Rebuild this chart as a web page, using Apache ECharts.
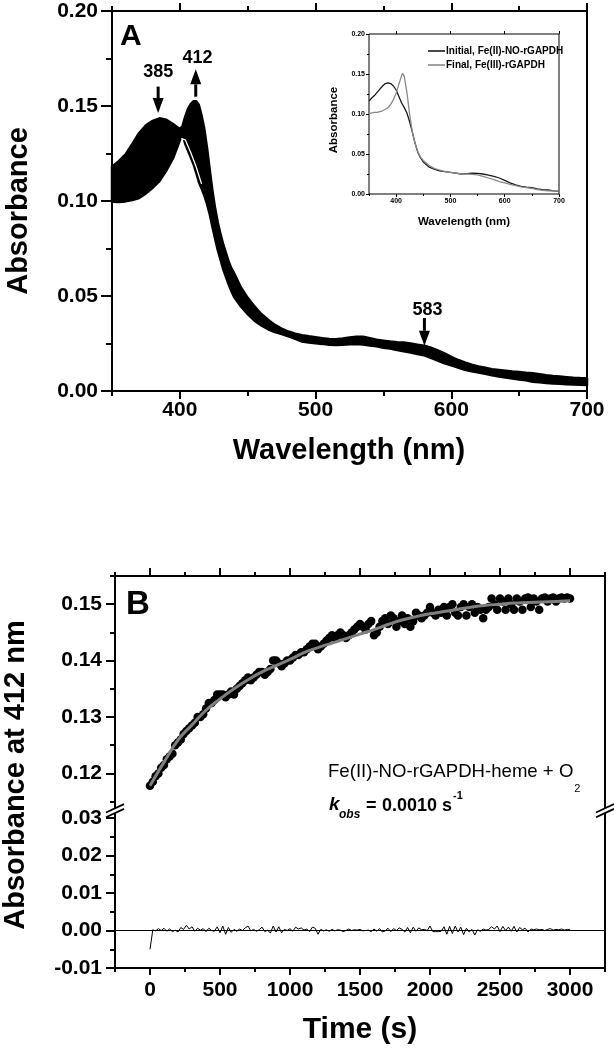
<!DOCTYPE html>
<html><head><meta charset="utf-8">
<script src="https://cdn.jsdelivr.net/npm/echarts@6/dist/echarts.min.js"></script>
<style>html,body{margin:0;padding:0;background:#fff}#c{width:614px;height:1050px}</style>
</head><body><div id="c"></div>
<script>
const FONT = 'Liberation Sans, Arial, sans-serif';

// ---------- Panel A: envelope of the spectral band ----------
const wavelengths = [350,355,360,365,370,375,380,385,390,395,400,402,404,406,408,410,412,414,416,418,420,422,424,426,428,430,432,434,436,438,440,445,450,455,460,465,470,475,480,485,490,495,500,505,510,515,520,525,530,535,540,545,550,555,560,565,570,575,580,585,590,595,600,605,610,615,620,625,630,635,640,645,650,655,660,665,670,675,680,685,690,695,700];
const bandUpper = [0.1180,0.1210,0.1245,0.1300,0.1358,0.1398,0.1422,0.1435,0.1428,0.1405,0.1378,0.1395,0.1445,0.1485,0.1510,0.1525,0.1525,0.1505,0.1450,0.1380,0.1280,0.1165,0.1055,0.0960,0.0885,0.0825,0.0770,0.0725,0.0680,0.0645,0.0620,0.0545,0.0490,0.0445,0.0405,0.0375,0.0348,0.0328,0.0313,0.0302,0.0294,0.0288,0.0283,0.0278,0.0274,0.0273,0.0277,0.0282,0.0285,0.0285,0.0278,0.0270,0.0265,0.0260,0.0257,0.0255,0.0250,0.0244,0.0238,0.0228,0.0214,0.0198,0.0180,0.0163,0.0150,0.0138,0.0129,0.0122,0.0115,0.0111,0.0107,0.0103,0.0100,0.0096,0.0093,0.0088,0.0083,0.0079,0.0076,0.0073,0.0070,0.0068,0.0067];
const bandLower = [0.0996,0.0995,0.0998,0.1005,0.1016,0.1040,0.1070,0.1105,0.1160,0.1225,0.1320,0.1350,0.1300,0.1265,0.1230,0.1195,0.1150,0.1100,0.1065,0.1030,0.0985,0.0930,0.0865,0.0800,0.0740,0.0690,0.0640,0.0600,0.0560,0.0525,0.0495,0.0445,0.0405,0.0370,0.0345,0.0325,0.0310,0.0300,0.0288,0.0275,0.0260,0.0255,0.0251,0.0248,0.0243,0.0242,0.0244,0.0246,0.0247,0.0245,0.0240,0.0235,0.0228,0.0224,0.0216,0.0209,0.0203,0.0195,0.0188,0.0175,0.0160,0.0146,0.0135,0.0123,0.0112,0.0104,0.0097,0.0091,0.0083,0.0076,0.0071,0.0066,0.0061,0.0056,0.0049,0.0046,0.0042,0.0040,0.0038,0.0036,0.0034,0.0033,0.0032];
const streakWl = [401,404,408,412,416];
const streakA  = [0.1328,0.1322,0.1255,0.1180,0.1090];

// ---------- Inset ----------
const insetInitialWl = [350,355,360,365,370,375,380,385,390,395,400,405,410,415,420,425,430,435,440,445,450,460,470,480,490,500,510,520,530,540,550,560,570,580,590,600,610,620,630,640,650,660,670,680,690,700];
const insetInitialA  = [0.116,0.120,0.123,0.127,0.131,0.135,0.138,0.139,0.138,0.135,0.130,0.122,0.114,0.108,0.101,0.090,0.077,0.063,0.052,0.045,0.040,0.034,0.031,0.029,0.028,0.027,0.026,0.025,0.0255,0.026,0.0258,0.025,0.0235,0.022,0.020,0.017,0.014,0.0115,0.0095,0.0085,0.0078,0.0065,0.0055,0.005,0.004,0.0037];
const insetFinalWl = [350,355,360,365,370,375,380,385,390,395,400,405,410,412,415,420,425,430,435,440,445,450,460,470,480,490,500,510,520,530,540,550,560,570,580,590,600,610,620,630,640,650,660,670,680,690,700];
const insetFinalA  = [0.100,0.1015,0.102,0.102,0.103,0.104,0.106,0.108,0.112,0.118,0.126,0.137,0.148,0.151,0.147,0.126,0.099,0.077,0.063,0.053,0.046,0.042,0.036,0.032,0.030,0.028,0.027,0.026,0.025,0.025,0.0245,0.024,0.022,0.020,0.018,0.0155,0.014,0.012,0.0105,0.009,0.008,0.007,0.0055,0.0045,0.004,0.004,0.004];

// ---------- Panel B ----------
const sampleTimes = [0,20,40,60,80,100,120,140,160,180,200,220,240,260,280,300,320,340,360,380,400,420,440,460,480,500,520,540,560,580,600,620,640,660,680,700,720,740,760,780,800,820,840,860,880,900,920,940,960,980,1000,1020,1040,1060,1080,1100,1120,1140,1160,1180,1200,1220,1240,1260,1280,1300,1320,1340,1360,1380,1400,1420,1440,1460,1480,1500,1520,1540,1560,1580,1600,1620,1640,1660,1680,1700,1720,1740,1760,1780,1800,1820,1840,1860,1880,1900,1920,1940,1960,1980,2000,2020,2040,2060,2080,2100,2120,2140,2160,2180,2200,2220,2240,2260,2280,2300,2320,2340,2360,2380,2400,2420,2440,2460,2480,2500,2520,2540,2560,2580,2600,2620,2640,2660,2680,2700,2720,2740,2760,2780,2800,2820,2840,2860,2880,2900,2920,2940,2960,2980,3000];
const absorbance412 = [
0.1178,0.1185,0.1195,0.1200,0.1210,0.1215,0.1225,0.1230,0.1235,0.1250,
0.1255,0.1260,0.1270,0.1275,0.1280,0.1285,0.1290,0.1300,0.1300,0.1305,
0.1315,0.1325,0.1325,0.1330,0.1340,0.1340,0.1340,0.1335,0.1340,0.1345,
0.1340,0.1350,0.1355,0.1360,0.1365,0.1370,0.1365,0.1370,0.1375,0.1380,
0.1380,0.1375,0.1380,0.1385,0.1400,0.1400,0.1395,0.1390,0.1395,0.1400,
0.1400,0.1405,0.1410,0.1410,0.1415,0.1415,0.1420,0.1425,0.1430,0.1430,
0.1420,0.1425,0.1430,0.1435,0.1440,0.1445,0.1440,0.1445,0.1450,0.1445,
0.1440,0.1445,0.1450,0.1455,0.1460,0.1465,0.1460,0.1455,0.1465,0.1470,
0.1445,0.1450,0.1460,0.1470,0.1475,0.1465,0.1480,0.1475,0.1460,0.1470,
0.1480,0.1465,0.1475,0.1460,0.1470,0.1485,0.1480,0.1475,0.1480,0.1485,
0.1495,0.1485,0.1480,0.1490,0.1485,0.1495,0.1480,0.1495,0.1500,0.1485,
0.1480,0.1495,0.1500,0.1480,0.1495,0.1500,0.1485,0.1495,0.1490,0.1475,
0.1490,0.1495,0.1510,0.1500,0.1490,0.1510,0.1505,0.1490,0.1510,0.1500,
0.1490,0.1510,0.1505,0.1490,0.1510,0.1512,0.1495,0.1510,0.1505,0.1490,
0.1510,0.1512,0.1505,0.1510,0.1512,0.1505,0.1510,0.1512,0.1510,0.1512,
0.1510];
const residuals = [
-0.0050,0.0002,-0.0001,0.0005,0.0000,0.0006,-0.0002,0.0004,-0.0003,0.0001,
-0.0004,0.0008,0.0003,0.0014,0.0004,0.0010,-0.0002,0.0006,0.0001,0.0005,
-0.0003,0.0006,0.0000,-0.0002,0.0010,-0.0006,0.0012,-0.0010,0.0008,-0.0005,
0.0003,-0.0002,0.0004,0.0000,0.0007,0.0012,-0.0001,0.0003,-0.0002,0.0002,
0.0009,-0.0003,0.0001,-0.0007,0.0012,-0.0004,0.0010,-0.0006,0.0003,0.0000,
0.0005,-0.0002,0.0009,0.0004,0.0007,0.0001,0.0004,-0.0003,0.0009,0.0006,
-0.0010,0.0003,-0.0001,0.0002,-0.0002,0.0003,-0.0001,0.0002,0.0001,-0.0003,
0.0000,0.0004,0.0000,0.0002,0.0001,0.0003,-0.0001,0.0000,0.0001,-0.0003,
0.0004,-0.0002,0.0005,-0.0004,-0.0001,0.0006,-0.0003,0.0005,0.0000,0.0007,
0.0003,-0.0004,0.0008,-0.0006,0.0009,-0.0002,0.0007,0.0002,0.0003,0.0000,
0.0012,-0.0003,-0.0003,-0.0003,-0.0002,0.0010,-0.0010,0.0011,-0.0008,0.0012,
-0.0004,0.0009,-0.0011,0.0006,-0.0004,0.0003,-0.0012,0.0002,-0.0002,0.0004,
0.0001,0.0003,0.0010,0.0004,0.0012,-0.0003,0.0011,0.0000,0.0009,-0.0002,
0.0011,-0.0004,0.0008,0.0002,0.0006,-0.0004,0.0004,0.0002,0.0004,0.0002,
0.0003,0.0000,0.0003,0.0005,0.0001,0.0003,0.0002,0.0004,0.0001,0.0003,
0.0002];
const fitTimes  = [0,100,200,300,400,500,600,700,800,900,1000,1100,1200,1300,1400,1500,1600,1700,1800,1900,2000,2100,2200,2300,2400,2500,2600,2700,2800,2900,3000];
const fitValues = [0.1178,0.1220,0.1259,0.1286,0.1312,0.1332,0.1350,0.1366,0.1380,0.1391,0.1402,0.1414,0.1423,0.1431,0.1439,0.1447,0.1455,0.1464,0.1472,0.1478,0.1483,0.1487,0.1491,0.1495,0.1498,0.1500,0.1502,0.1503,0.1504,0.1505,0.1506];

// ---------- tick values ----------
const aMajorX = [400,500,600,700];
const aMinorX = [350,450,550,650];
const aMajorY = [0,0.05,0.10,0.15,0.20];
const aMinorY = [0.025,0.075,0.125,0.175];
const bMajorX = [0,500,1000,1500,2000,2500,3000];
const bMinorX = [-250,250,750,1250,1750,2250,2750,3250];
const bUpperMajorY = [0.12,0.13,0.14,0.15];
const bUpperMinorY = [0.115,0.125,0.135,0.145,0.155];
const bLowerMajorY = [-0.01,0,0.01,0.02,0.03];
const bLowerMinorY = [-0.005,0.005,0.015,0.025];

const zip = (a, b) => a.map((v, i) => [v, b[i]]);
const fmt2 = v => Number(v).toFixed(2);
const fmtInt = v => String(Math.round(v));

function mkAxis(p) {
  return {
    type: 'value', gridIndex: p.grid, position: p.pos, min: p.min, max: p.max, z: 5,
    splitLine: { show: false },
    axisLine: { show: !!p.line, onZero: false, lineStyle: { color: '#000', width: p.lw || 2 } },
    axisTick: { show: !!p.ticks, customValues: p.ticks, length: p.tl || 6, lineStyle: { color: '#000', width: p.tw || 2 } },
    axisLabel: { show: !!p.labels, customValues: p.labels, fontSize: p.fs || 21, fontWeight: 'bold', fontFamily: FONT, color: '#000', margin: p.m || 10, formatter: p.fmt || fmtInt }
  };
}

const xAxes = [
  mkAxis({grid:0,pos:'bottom',min:350,max:700,line:true,ticks:aMajorX,tl:8,labels:aMajorX,m:9}),
  mkAxis({grid:0,pos:'bottom',min:350,max:700,ticks:aMinorX,tl:5}),
  mkAxis({grid:0,pos:'top',min:350,max:700,ticks:aMajorX,tl:8}),
  mkAxis({grid:0,pos:'top',min:350,max:700,ticks:aMinorX,tl:5}),
  mkAxis({grid:1,pos:'bottom',min:350,max:700,ticks:aMajorX,tl:3,tw:1,labels:aMajorX,fs:7,m:4}),
  mkAxis({grid:1,pos:'bottom',min:350,max:700,ticks:aMinorX,tl:2,tw:1}),
  mkAxis({grid:1,pos:'top',min:350,max:700,ticks:aMajorX,tl:3,tw:1}),
  mkAxis({grid:2,pos:'top',min:-250,max:3250,line:true,ticks:bMajorX,tl:8}),
  mkAxis({grid:2,pos:'top',min:-250,max:3250,ticks:bMinorX,tl:4}),
  mkAxis({grid:3,pos:'bottom',min:-250,max:3250,line:true,ticks:bMajorX,tl:7,labels:bMajorX,m:12}),
  mkAxis({grid:3,pos:'bottom',min:-250,max:3250,ticks:bMinorX,tl:4})
];
const yAxes = [
  mkAxis({grid:0,pos:'left',min:0,max:0.2,line:true,ticks:aMajorY,tl:11,labels:aMajorY,fmt:fmt2,m:14}),
  mkAxis({grid:0,pos:'left',min:0,max:0.2,ticks:aMinorY,tl:6}),
  mkAxis({grid:1,pos:'left',min:0,max:0.2,ticks:aMajorY,tl:3,tw:1,labels:aMajorY,fmt:fmt2,fs:7,m:4}),
  mkAxis({grid:1,pos:'left',min:0,max:0.2,ticks:aMinorY,tl:2,tw:1}),
  mkAxis({grid:2,pos:'left',min:0.115,max:0.155,line:true,ticks:bUpperMajorY,tl:9,labels:bUpperMajorY,fmt:fmt2,m:13}),
  mkAxis({grid:2,pos:'left',min:0.115,max:0.155,ticks:bUpperMinorY,tl:5}),
  mkAxis({grid:2,pos:'right',min:0.115,max:0.155,line:true}),
  mkAxis({grid:3,pos:'left',min:-0.01,max:0.03,line:true,ticks:bLowerMajorY,tl:9,labels:bLowerMajorY,fmt:fmt2,m:13}),
  mkAxis({grid:3,pos:'left',min:-0.01,max:0.03,ticks:bLowerMinorY,tl:5}),
  mkAxis({grid:3,pos:'right',min:-0.01,max:0.03,line:true})
];

const chart = echarts.init(document.getElementById('c'), null, { renderer: 'canvas' });
const option = {
  animation: false,
  backgroundColor: '#fff',
  grid: [
    { left: 112, right: 27, top: 11, bottom: 659, show: true, borderColor: '#000', borderWidth: 2, backgroundColor: 'transparent' },
    { left: 369, right: 55, top: 34, bottom: 856, show: true, borderColor: '#000', borderWidth: 1, backgroundColor: 'transparent' },
    { left: 115, right: 9, top: 576, bottom: 248.4 },
    { left: 115, right: 9, top: 818, bottom: 82 }
  ],
  xAxis: xAxes,
  yAxis: yAxes,
  legend: {
    left: 423, top: 41, orient: 'vertical', itemWidth: 17, itemHeight: 1.6, itemGap: 4,
    textStyle: { fontSize: 10, fontWeight: 'bold', fontFamily: FONT, color: '#000', padding: [0, 0, 0, -4] },
    data: [{ name: 'Initial, Fe(II)-NO-rGAPDH', icon: 'rect' }, { name: 'Final, Fe(III)-rGAPDH', icon: 'rect' }]
  },
  series: [
    {
      type: 'custom', name: 'band', xAxisIndex: 0, yAxisIndex: 0, silent: true, clip: false,
      data: [[wavelengths[0], bandLower[0]]],
      renderItem: function (params, api) {
        const pts = [];
        for (let i = 0; i < wavelengths.length; i++) pts.push(api.coord([wavelengths[i], bandUpper[i]]));
        for (let i = wavelengths.length - 1; i >= 0; i--) pts.push(api.coord([wavelengths[i], bandLower[i]]));
        return { type: 'polygon', shape: { points: pts }, style: { fill: '#000', stroke: '#000', lineWidth: 2.5, lineJoin: 'round' } };
      }
    },
    { type: 'line', name: 'streak', xAxisIndex: 0, yAxisIndex: 0, data: zip(streakWl, streakA), symbol: 'none', silent: true,
      lineStyle: { color: '#fff', width: 1.3 }, z: 3 },
    { type: 'line', name: 'Initial, Fe(II)-NO-rGAPDH', xAxisIndex: 4, yAxisIndex: 2, data: zip(insetInitialWl, insetInitialA),
      symbol: 'none', lineStyle: { color: '#1a1a1a', width: 1.3 }, itemStyle: { color: '#1a1a1a' } },
    { type: 'line', name: 'Final, Fe(III)-rGAPDH', xAxisIndex: 4, yAxisIndex: 2, data: zip(insetFinalWl, insetFinalA),
      symbol: 'none', lineStyle: { color: '#8a8a8a', width: 1.3 }, itemStyle: { color: '#8a8a8a' } },
    { type: 'scatter', name: 'data', xAxisIndex: 7, yAxisIndex: 4, data: zip(sampleTimes, absorbance412),
      symbol: 'circle', symbolSize: 8.5, itemStyle: { color: '#000', opacity: 1 }, silent: true, z: 3 },
    { type: 'line', name: 'fit', xAxisIndex: 7, yAxisIndex: 4, data: zip(fitTimes, fitValues), smooth: true,
      symbol: 'none', lineStyle: { color: '#808080', width: 3 }, silent: true, z: 4 },
    { type: 'line', name: 'residual', xAxisIndex: 9, yAxisIndex: 7, data: zip(sampleTimes, residuals),
      symbol: 'none', lineStyle: { color: '#000', width: 1 }, silent: true,
      markLine: { silent: true, symbol: 'none', label: { show: false }, lineStyle: { color: '#000', width: 1, type: 'solid' }, data: [{ yAxis: 0 }] } }
  ]
};
chart.setOption(option);

// ---------- annotations ----------
const mctx = document.createElement('canvas').getContext('2d');
function textW(text, size, weight, italic) {
  mctx.font = (italic ? 'italic ' : '') + (weight || 'bold') + ' ' + size + 'px ' + FONT;
  return mctx.measureText(text).width;
}
const toPx = (pt) => chart.convertToPixel({ xAxisIndex: 0, yAxisIndex: 0 }, pt);
function arrowEls(d0, d1) {
  const p0 = toPx(d0), p1 = toPx(d1);
  const dx = p1[0] - p0[0], dy = p1[1] - p0[1], len = Math.hypot(dx, dy);
  const ux = dx / len, uy = dy / len, hl = 15, hw = 5.5;
  const bx = p1[0] - ux * hl, by = p1[1] - uy * hl;
  return [
    { type: 'line', shape: { x1: p0[0], y1: p0[1], x2: bx, y2: by }, style: { stroke: '#000', lineWidth: 3 }, z: 10 },
    { type: 'polygon', shape: { points: [[p1[0], p1[1]], [bx - uy * hw, by + ux * hw], [bx + uy * hw, by - ux * hw]] }, style: { fill: '#000' }, z: 10 }
  ];
}
function txt(x, y, text, size, opts) {
  opts = opts || {};
  return {
    type: 'text', x: x, y: y, rotation: opts.rot || 0, z: 10,
    style: { text: text, fontSize: size, fontWeight: opts.w || 'bold', fontStyle: opts.it ? 'italic' : 'normal', fontFamily: FONT,
      fill: '#000', align: opts.align || 'center', verticalAlign: 'middle' }
  };
}
const annotations = [
  { label: '385', at: [384, 0.1681], from: [384, 0.1602], to: [384, 0.1463] },
  { label: '412', at: [413, 0.1755], from: [411.7, 0.1549], to: [411.7, 0.1693] },
  { label: '583', at: [582.5, 0.0426], from: [580.2, 0.0384], to: [580.2, 0.0238] }
];
const els = [];
annotations.forEach(a => {
  const p = toPx(a.at);
  els.push(txt(p[0], p[1], a.label, 18));
  arrowEls(a.from, a.to).forEach(e => els.push(e));
});
// panel letters and axis titles
els.push(txt(120, 37, 'A', 30, { align: 'left' }));
els.push(txt(126, 605, 'B', 33, { align: 'left' }));
els.push(txt(19, 211, 'Absorbance', 29, { rot: Math.PI / 2 }));
els.push(txt(349, 451, 'Wavelength (nm)', 29));
els.push(txt(334, 120, 'Absorbance', 11.5, { rot: Math.PI / 2 }));
els.push(txt(464, 222, 'Wavelength (nm)', 11.5));
els.push(txt(16, 775, 'Absorbance at 412 nm', 29, { rot: Math.PI / 2 }));
els.push(txt(360, 1030, 'Time (s)', 30));
// panel B annotation text
const feText = 'Fe(II)-NO-rGAPDH-heme + O';
const feW = textW(feText, 18.6, 'normal');
els.push(txt(328, 772, feText, 18.6, { align: 'left', w: 'normal' }));
els.push(txt(328 + feW + 1, 789, '2', 11, { align: 'left', w: 'normal' }));
els.push(txt(329, 805, 'k', 19, { align: 'left', it: true }));
els.push(txt(339, 815, 'obs', 12, { align: 'left', it: true }));
els.push(txt(366, 806, '=', 18, { align: 'left' }));
const valText = '0.0010 s';
const valW = textW(valText, 18, 'bold');
els.push(txt(382, 806, valText, 18, { align: 'left' }));
els.push(txt(382 + valW + 1, 796, '-1', 11, { align: 'left' }));
// axis break marks for panel B
[115, 605].forEach(x => {
  els.push({ type: 'line', shape: { x1: x, y1: 800, x2: x, y2: 819 }, style: { stroke: '#000', lineWidth: 2 }, z: 9 });
  els.push({ type: 'polygon', shape: { points: [[x - 9, 812.5], [x + 9, 804.1], [x + 9, 808.9], [x - 9, 817.3]] }, style: { fill: '#fff' }, z: 10 });
  els.push({ type: 'line', shape: { x1: x - 9, y1: 812.5, x2: x + 9, y2: 804.1 }, style: { stroke: '#000', lineWidth: 1.8 }, z: 11 });
  els.push({ type: 'line', shape: { x1: x - 9, y1: 817.3, x2: x + 9, y2: 808.9 }, style: { stroke: '#000', lineWidth: 1.8 }, z: 11 });
});
chart.setOption({ graphic: els });
</script>
</body></html>
